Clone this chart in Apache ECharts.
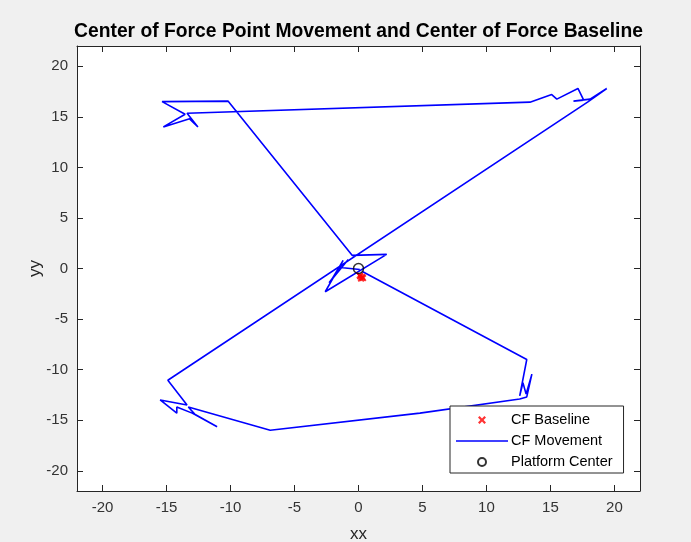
<!DOCTYPE html>
<html>
<head>
<meta charset="utf-8">
<script src="https://cdn.jsdelivr.net/npm/echarts@6/dist/echarts.min.js"></script>
<style>
  html, body { margin: 0; padding: 0; background: #f0f0f0; }
  #chart { width: 691px; height: 542px; }
</style>
</head>
<body>
<div id="chart"></div>
<script>
// tick labels shown on both axes
const tickValues = [-20, -15, -10, -5, 0, 5, 10, 15, 20];

// CF baseline samples (red x)
const baselineX = [0.1, 0.3, 0.2, 0.35, 0.15];
const baselineY = [-0.7, -0.85, -1.0, -0.95, -0.8];

// CF movement trace, in drawing order
const moveX = [0.1, -1.4, -2.3, -0.8, -2.1, -1.2, -2.6, 2.2, -0.5,
  -10.2, -15.35, -13.55, -15.25, -13.2, -12.55, -13.4,
  13.4, 15.1, 15.5, 17.15, 17.6, 16.8, 18.1, 19.4, 18.9, 17.9,
  -14.9, -13.4, -15.5, -14.2, -14.2, -13.0, -11.05, -12.8, -13.3,
  -6.9, 4.8, 12.6, 13.15, 13.55, 13.1, 12.85, 12.6, 13.15, 0.3];
const moveY = [-0.1, 0.1, -1.4, 0.9, -1.1, 0.8, -2.3, 1.4, 1.3,
  16.55, 16.5, 15.25, 14.0, 14.8, 14.0, 15.35,
  16.45, 17.2, 16.75, 17.8, 16.65, 16.55, 16.75, 17.8, 17.35, 16.45,
  -11.05, -13.5, -13.0, -14.3, -13.7, -14.3, -15.65, -14.4, -13.7,
  -16.0, -14.3, -12.9, -12.7, -10.45, -12.4, -11.3, -12.6, -9.0, -0.3];

// platform center (black o)
const centerX = [0];
const centerY = [0];

const zip = (xs, ys) => xs.map((x, i) => [x, ys[i]]);

const font = "'Liberation Sans', Arial, Helvetica, sans-serif";
const ink = '#262626';
const xMark = 'path://M0,2 L2,0 L5,3 L8,0 L10,2 L7,5 L10,8 L8,10 L5,7 L2,10 L0,8 L3,5 Z';

function makeAxis(dim, pos, showLabel, name) {
  return {
    type: 'value',
    position: pos,
    min: -22,
    max: 22,
    name: name,
    nameLocation: 'middle',
    nameGap: dim === 'x' ? 35 : 33,
    nameMoveOverlap: false,
    nameTextStyle: { color: ink, fontSize: 17, fontFamily: font },
    axisLine: { show: true, onZero: false, lineStyle: { color: ink, width: 1 } },
    axisTick: { show: true, inside: true, length: 6, customValues: tickValues, lineStyle: { color: ink } },
    axisLabel: { show: showLabel, customValues: tickValues, margin: 9, color: '#333', fontSize: 15, fontFamily: font },
    splitLine: { show: false }
  };
}

const chart = echarts.init(document.getElementById('chart'), null, { renderer: 'canvas' });

const option = {
  backgroundColor: '#f0f0f0',
  animation: false,
  title: {
    text: 'Center of Force Point Movement and Center of Force Baseline',
    left: 353.5,
    top: 17,
    textAlign: 'center',
    textStyle: { color: '#000', fontSize: 19.3, fontWeight: 'bold', fontFamily: font }
  },
  grid: {
    left: 77, right: 51, top: 46, bottom: 51,
    outerBoundsMode: 'none',
    containLabel: false,
    show: true, backgroundColor: '#ffffff', borderWidth: 0
  },
  xAxis: [makeAxis('x', 'bottom', true, 'xx'), makeAxis('x', 'top', false, '')],
  yAxis: [makeAxis('y', 'left', true, 'yy'), makeAxis('y', 'right', false, '')],
  legend: {
    orient: 'vertical',
    left: 450,
    top: 406,
    padding: [6, 11, 3, 6],
    itemWidth: 52,
    itemHeight: 8,
    itemGap: 5,
    backgroundColor: '#ffffff',
    borderColor: ink,
    borderWidth: 1,
    borderRadius: 0,
    textStyle: { color: '#000', fontSize: 14.5, lineHeight: 16, fontFamily: font, padding: [0, 0, 0, -2] },
    data: [
      'CF Baseline',
      { name: 'CF Movement', icon: 'path://M0,0 L52,0 L52,1.6 L0,1.6 Z' },
      'Platform Center'
    ]
  },
  series: [
    {
      name: 'CF Baseline',
      type: 'scatter',
      symbol: xMark,
      symbolSize: 7,
      itemStyle: { color: '#ff0000' },
      data: zip(baselineX, baselineY),
      z: 3
    },
    {
      name: 'CF Movement',
      type: 'line',
      symbol: 'none',
      lineStyle: { color: '#0000ff', width: 1.6 },
      itemStyle: { color: '#0000ff' },
      data: zip(moveX, moveY),
      z: 2
    },
    {
      name: 'Platform Center',
      type: 'scatter',
      symbol: 'circle',
      symbolSize: 10,
      itemStyle: { color: 'rgba(0,0,0,0)', borderColor: '#000', borderWidth: 1.5 },
      data: zip(centerX, centerY),
      z: 4
    }
  ]
};

chart.setOption(option);
</script>
</body>
</html>
